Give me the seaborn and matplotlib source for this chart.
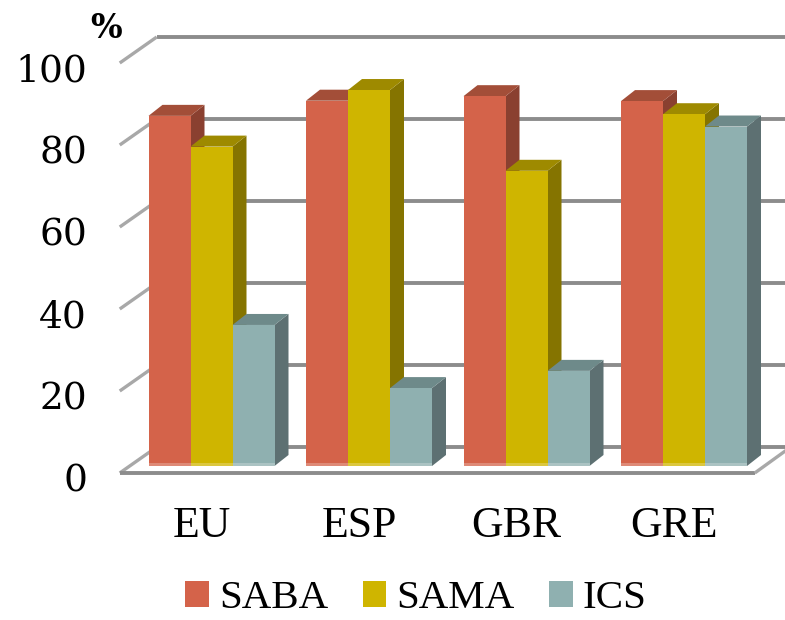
#!/usr/bin/env python3
# -*- coding: utf-8 -*-
"""
Fake 3D grouped bars with seaborn
"""

import matplotlib
matplotlib.use('Agg')
import matplotlib.pyplot as plt
from matplotlib.patches import Polygon, Rectangle
from matplotlib.transforms import ScaledTranslation
import pandas as pd
import seaborn as sns

countries = ['EU', 'ESP', 'GBR', 'GRE']
saba = [85.4, 89.1, 90.2, 89.0]
sama = [77.9, 91.7, 72.0, 85.8]
ics = [34.4, 19.0, 23.2, 82.8]
y_ticks = [0, 20, 40, 60, 80, 100]

front_colors = {'SABA': '#D4634A', 'SAMA': '#CFB500', 'ICS': '#8FB0B0'}
side_colors = {'SABA': '#8A4030', 'SAMA': '#857400', 'ICS': '#5D7072'}
top_colors = {'SABA': '#A34E38', 'SAMA': '#9E8A00', 'ICS': '#6E8A8A'}

W, H = 785, 620
LEFT, RIGHT, BASE, TOP = 132.75, 762.75, 466, 56
PX_X = (RIGHT - LEFT) / 4     # pixels per category
PX_Y = (BASE - TOP) / 100     # pixels per percent


def px(dx, dy):
    # pixel offset to data offset, dy counted upwards
    return dx / PX_X, dy / PX_Y


data = pd.DataFrame({'country': countries * 3,
                     'drug': ['SABA'] * 4 + ['SAMA'] * 4 + ['ICS'] * 4,
                     'value': saba + sama + ics})

sns.set_style('white')
plt.rcParams['font.family'] = ['Liberation Serif', 'DejaVu Serif']
plt.rcParams['text.color'] = 'black'

fig = plt.figure(figsize=(W / 100, H / 100), dpi=100)
ax = fig.add_axes([LEFT / W, 1 - BASE / H, (RIGHT - LEFT) / W, (BASE - TOP) / H])

sns.barplot(data=data, x='country', y='value', hue='drug', order=countries,
            hue_order=list(front_colors), palette=front_colors, saturation=1,
            width=0.8, gap=0, dodge=True, linewidth=0, ax=ax, zorder=10)

ax.set_xlim(-0.5, 3.5)
ax.set_ylim(0, 100)
sns.despine(ax=ax, left=True, bottom=True)
ax.set_xlabel('')
ax.set_ylabel('')

# back wall grid and left wall diagonals
grid_dx0, grid_dy0 = px(24, 19)
grid_dx1, _ = px(28, 0)
front_dx, front_dy = px(-13, -7)
for v in y_ticks:
    ax.plot([-0.5 + grid_dx0, 3.5 + grid_dx1], [v + grid_dy0, v + grid_dy0], color='#8C8C8C',
            lw=2.8, clip_on=False, zorder=1, solid_capstyle='butt')
    ax.plot([-0.5 + front_dx, -0.5 + grid_dx0], [v + front_dy, v + grid_dy0], color='#A8A8A8',
            lw=2.4, clip_on=False, zorder=1, solid_capstyle='butt')

# floor front edge and right edge
floor_r, _ = px(-8, 0)
ax.plot([-0.5 + front_dx, 3.5 + floor_r], [front_dy, front_dy], color='#8C8C8C', lw=2.8,
        clip_on=False, zorder=2, solid_capstyle='butt')
ax.plot([3.5 + floor_r, 3.5 + grid_dx1], [front_dy, grid_dy0], color='#A8A8A8', lw=2.4,
        clip_on=False, zorder=2, solid_capstyle='butt')

# side and top faces, worked out from the bars seaborn drew
depth_x, depth_y = px(14, 11)
names = list(front_colors)
strip = 3 / PX_Y
for c, container in enumerate(ax.containers):
    name = names[c]
    for bar in container:
        x0, x1 = bar.get_x(), bar.get_x() + bar.get_width()
        h = bar.get_height()
        z = 10 + 3 * x0
        ax.add_patch(Polygon([(x1, 0), (x1 + depth_x, depth_y), (x1 + depth_x, h + depth_y), (x1, h)],
                             fc=side_colors[name], ec='none', zorder=z, clip_on=False))
        ax.add_patch(Polygon([(x0, h), (x0 + depth_x, h + depth_y), (x1 + depth_x, h + depth_y), (x1, h)],
                             fc=top_colors[name], ec='none', zorder=z, clip_on=False))
        bar.set_zorder(z + 0.1)
        bar.set_clip_on(False)
        ax.add_patch(Rectangle((x0, 0), x1 - x0, strip, fc='white', alpha=0.25, ec='none',
                               zorder=z + 0.2, clip_on=False))

# tick labels sit in front of the bar plane
ax.set_yticks(y_ticks)
ax.set_xticks(range(len(countries)))
ax.set_xticklabels(countries, fontsize=31.5)
ax.tick_params(axis='both', length=0, labelcolor='black')
ax.tick_params(axis='x', pad=29)
ax.tick_params(axis='y', pad=33)
for label in ax.get_yticklabels():
    label.set_family('DejaVu Serif')
    label.set_fontsize(27)
    label.set_transform(label.get_transform() + ScaledTranslation(0, -11 / 100, fig.dpi_scale_trans))
for label in ax.get_xticklabels():
    label.set_transform(label.get_transform() + ScaledTranslation(-10 / 100, 0, fig.dpi_scale_trans))

fig.text(106 / W, 1 - 28 / H, '%', fontsize=24, family='DejaVu Serif', weight='bold', ha='center',
         va='center', color='black')

# raised a little so the text boxes stay inside the figure
leg = ax.legend(loc='center', bbox_to_anchor=(416 / W, 1 - 599 / H), bbox_transform=fig.transFigure,
                ncols=3, frameon=False, fontsize=29.5, handlelength=0.57, handleheight=0.57,
                handletextpad=0.25, columnspacing=0.85, borderpad=0, borderaxespad=0, labelcolor='black')
leg.set_zorder(30)

fig.savefig('out.png', dpi=100)
